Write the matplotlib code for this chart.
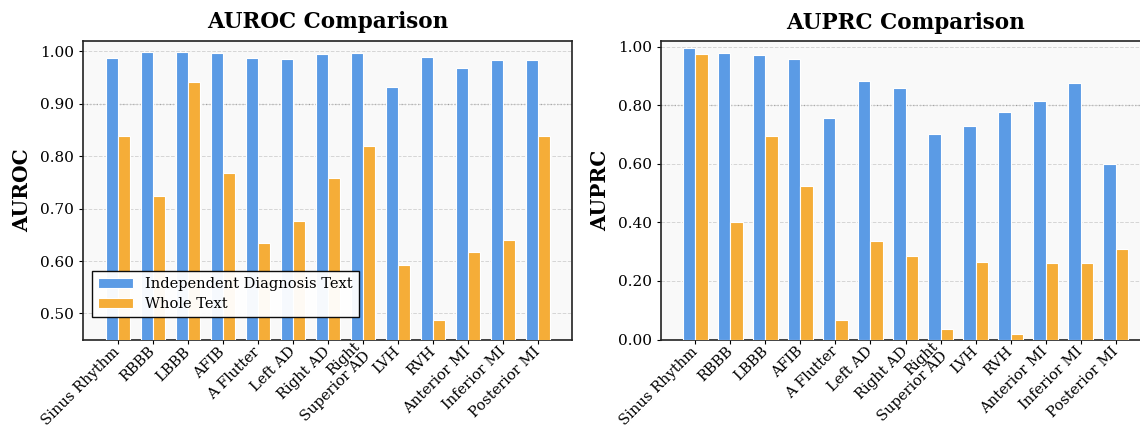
import numpy as np
import matplotlib
matplotlib.use('Agg')
import matplotlib.pyplot as plt
import matplotlib.transforms as mtransforms

plt.rcParams['font.family'] = 'DejaVu Serif'

# categories
cats = ['Sinus Rhythm', 'RBBB', 'LBBB', 'AFIB', 'A Flutter', 'Left AD', 'Right AD',
        'Right\nSuperior AD', 'LVH', 'RVH', 'Anterior MI', 'Inferior MI', 'Posterior MI']

# values
auroc_indep = [0.987, 0.998, 0.998, 0.997, 0.987, 0.986, 0.995, 0.997, 0.932, 0.989, 0.968, 0.983, 0.983]
auroc_whole = [0.839, 0.724, 0.942, 0.767, 0.634, 0.676, 0.758, 0.819, 0.592, 0.488, 0.618, 0.641, 0.839]
auprc_indep = [0.995, 0.979, 0.972, 0.960, 0.757, 0.883, 0.860, 0.703, 0.731, 0.776, 0.814, 0.876, 0.600]
auprc_whole = [0.977, 0.401, 0.696, 0.525, 0.066, 0.337, 0.286, 0.036, 0.266, 0.018, 0.263, 0.262, 0.308]

blue = '#5B9BE5'
orange = '#F5AD38'
w = 0.35

fig = plt.figure(figsize=(11.4, 4.28), dpi=100)
W, H = 1140, 428
ax1 = fig.add_axes([83.3/W, (H-339.7)/H, 489/W, 299/H])
ax2 = fig.add_axes([661/W, (H-339.5)/H, 489/W, 298.5/H])

x = np.arange(len(cats))
shift = mtransforms.ScaledTranslation(-5/100, 1/100, fig.dpi_scale_trans)


def draw(ax, indep, whole, title, ylabel, ylim, yticks, refline):
    ax.set_facecolor('#f9f9f9')
    ax.bar(x - w/2, indep, w, color=blue, edgecolor='white', linewidth=0.8,
           label='Independent Diagnosis Text', zorder=3)
    ax.bar(x + w/2, whole, w, color=orange, edgecolor='white', linewidth=0.8,
           label='Whole Text', zorder=3)
    ax.set_ylim(*ylim)
    ax.set_yticks(yticks)
    ax.set_yticklabels(['%.2f' % t for t in yticks], fontsize=11)
    ax.set_xticks(x)
    ax.set_xticklabels(cats, rotation=45, ha='right', va='center', fontsize=10.5,
                       linespacing=1.0, rotation_mode='anchor')
    for lab in ax.get_xticklabels():
        lab.set_transform(lab.get_transform() + shift)
    ax.grid(axis='y', linestyle='--', color='#cccccc', linewidth=0.7, alpha=0.8, zorder=0)
    ax.axhline(refline, color='#999999', linestyle=':', linewidth=0.9, zorder=1)
    ax.set_title(title, fontsize=15.5, fontweight='bold', pad=9)
    ax.set_ylabel(ylabel, fontsize=14.5, fontweight='bold', labelpad=6)
    for s in ax.spines.values():
        s.set_color('#222222')
        s.set_linewidth(1.2)
    ax.tick_params(axis='x', length=3, pad=4)
    ax.tick_params(axis='y', length=3)


draw(ax1, auroc_indep, auroc_whole, 'AUROC Comparison', 'AUROC',
     (0.45, 1.02), [0.5, 0.6, 0.7, 0.8, 0.9, 1.0], 0.9)
draw(ax2, auprc_indep, auprc_whole, 'AUPRC Comparison', 'AUPRC',
     (0.0, 1.02), [0.0, 0.2, 0.4, 0.6, 0.8, 1.0], 0.8)

leg = ax1.legend(loc='lower left', bbox_to_anchor=(0.002, 0.05), fontsize=10.5,
                 fancybox=False, edgecolor='black', framealpha=0.95,
                 borderpad=0.45, handlelength=2.4, labelspacing=0.4)
leg.get_frame().set_linewidth(1.0)

fig.savefig('out.png', dpi=100)
